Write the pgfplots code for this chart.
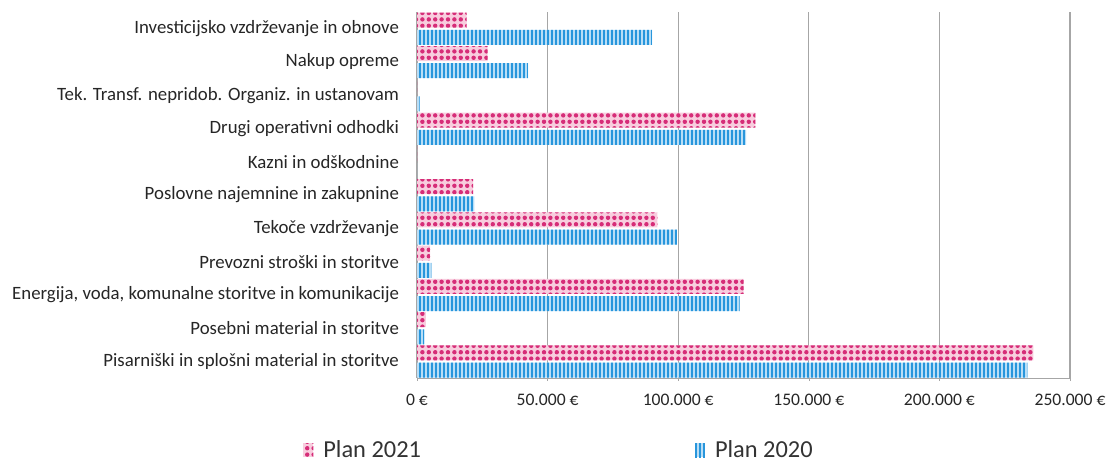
\documentclass[border=0pt]{standalone}
\usepackage{pgfplots}
\pgfplotsset{compat=1.18}
\usepackage{fontspec}
\setmainfont{Carlito}
\usetikzlibrary{patterns.meta}

\definecolor{pinkdot}{RGB}{214,45,120}
\definecolor{pinkbg}{RGB}{248,205,222}
\definecolor{bluebar}{RGB}{40,150,220}
\definecolor{bluebg}{RGB}{185,222,246}

\begin{document}
\begin{tikzpicture}
\useasboundingbox (0pt,0pt) rectangle (556pt,-230.5pt);
\begin{axis}[
    at={(208.5pt,-189pt)}, anchor=south west,
    scale only axis,
    width=326.5pt, height=183pt,
    xbar, bar width=7.5pt,
    xmin=0, xmax=250000,
    ymin=-0.5, ymax=10.5,
    scaled x ticks=false,
    axis x line=bottom, axis y line=left,
    axis line style={gray!70, -},
    xtick={0,50000,100000,150000,200000,250000},
    xticklabels={0 €,50.000 €,100.000 €,150.000 €,200.000 €,250.000 €},
    xtick style={gray!70},
    major tick length=3pt,
    xmajorgrids, grid style={gray!70, line width=0.6pt},
    ytick={0,...,10},
    yticklabels={Pisarniški in splošni material in storitve,
      Posebni material in storitve,
      {Energija, voda, komunalne storitve in komunikacije},
      Prevozni stroški in storitve,
      Tekoče vzdrževanje,
      Poslovne najemnine in zakupnine,
      Kazni in odškodnine,
      Drugi operativni odhodki,
      Tek. Transf. nepridob. Organiz. in ustanovam,
      Nakup opreme,
      Investicijsko vzdrževanje in obnove},
    ytick style={draw=none},
    xticklabel style={font=\fontsize{8.8}{10}\selectfont, text=black!85, yshift=-3pt},
    yticklabel style={font=\fontsize{9.4}{11}\selectfont, text=black!85, xshift=-4pt},
    legend columns=2,
    legend style={at={(0.219,-0.197)}, anchor=center, draw=none,
      font=\fontsize{12.2}{14}\selectfont, text=black!80,
      /tikz/every even column/.append style={column sep=135pt},
      /tikz/every odd column/.append style={column sep=0pt}},
    legend image code/.code={\draw[#1, draw=none] (0pt,-3.5pt) rectangle (5pt,3.5pt);
      \path (8pt,0pt);},
]
\addplot[bar shift=4.2pt, draw=none, fill=pinkbg,
  postaction={pattern={Dots[radius=1.1pt,distance=3.2pt]}, pattern color=pinkdot}]
  coordinates {(236000,0) (3400,1) (125000,2) (5000,3) (92000,4) (21500,5)
    (0,6) (129500,7) (0,8) (27000,9) (19000,10)};
\addplot[bar shift=-4.4pt, draw=none, fill=bluebg,
  postaction={pattern={Lines[angle=90,distance=2pt,line width=1pt]}, pattern color=bluebar}]
  coordinates {(233700,0) (2900,1) (123500,2) (5500,3) (99500,4) (22000,5)
    (0,6) (126000,7) (1000,8) (42500,9) (90000,10)};
\legend{Plan 2021, Plan 2020}
\end{axis}
\end{tikzpicture}
\end{document}
